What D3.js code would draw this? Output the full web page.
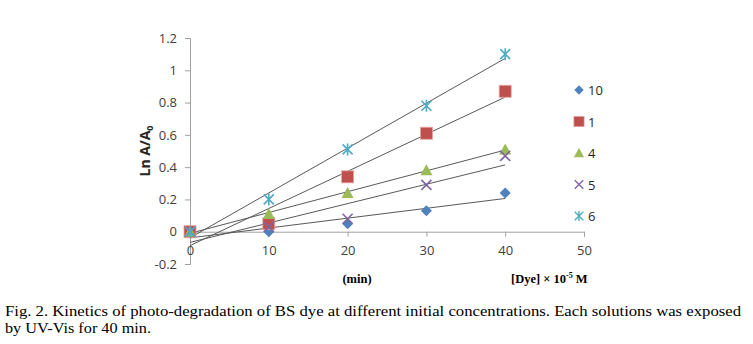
<!DOCTYPE html>
<html>
<head>
<meta charset="utf-8">
<script src="https://cdn.jsdelivr.net/npm/d3@7"></script>
<style>
body { margin: 0; background: #fff; }
text { font-family: "Open Sans", "Liberation Sans", sans-serif; }
</style>
</head>
<body>
<div id="main"></div>
<script>
var times = [0, 10, 20, 30, 40];
var seriesNames = ["10", "1", "4", "5", "6"];
var s10 = [0, 0.0, 0.05, 0.13, 0.24];
var s1 = [0, 0.05, 0.34, 0.61, 0.87];
var s4 = [0, 0.11, 0.24, 0.38, 0.51];
var s5 = [0, 0.03, 0.08, 0.29, 0.47];
var s6 = [0, 0.2, 0.51, 0.78, 1.1];
var xTicks = [0, 10, 20, 30, 40, 50];
var yTicks = [-0.2, 0, 0.2, 0.4, 0.6, 0.8, 1, 1.2];

var seriesValues = [s10, s1, s4, s5, s6];
var colors = ["#4F81BD", "#C0504D", "#9BBB59", "#8064A2", "#4BACC6"];
var shapes = ["diamond", "square", "triangle", "x", "star"];

var W = 753, H = 344;
var svg = d3.select("#main").append("svg")
  .attr("width", W).attr("height", H);

var x = d3.scaleLinear().domain([0, 50]).range([190, 584]);
var y = d3.scaleLinear().domain([-0.2, 1.2]).range([264, 38]);

var axisColor = "#A0A0A0";

// y axis
var yAxis = svg.append("g")
  .attr("transform", "translate(" + x(0) + ",0)")
  .call(d3.axisLeft(y).tickValues(yTicks).tickSize(5).tickPadding(8)
    .tickFormat(d => String(Math.round(d * 10) / 10)));
yAxis.select(".domain").attr("stroke", axisColor);
yAxis.selectAll(".tick line").attr("stroke", axisColor);
yAxis.selectAll(".tick text").attr("fill", "#404040").style("font-size", "13px");

// x axis at y=0
var xAxis = svg.append("g")
  .attr("transform", "translate(0," + y(0) + ")")
  .call(d3.axisBottom(x).tickValues(xTicks).tickSize(5).tickPadding(9));
xAxis.select(".domain").attr("stroke", axisColor);
xAxis.selectAll(".tick line").attr("stroke", axisColor);
xAxis.selectAll(".tick text").attr("fill", "#404040").style("font-size", "13px");

// linear trendlines (least squares)
function fit(vals) {
  var mx = d3.mean(times), my = d3.mean(vals);
  var num = d3.sum(times, (t, i) => (t - mx) * (vals[i] - my));
  var den = d3.sum(times, t => (t - mx) * (t - mx));
  var b = num / den;
  return { b: b, a: my - b * mx };
}
seriesValues.forEach(function(vals) {
  var f = fit(vals);
  var x0 = d3.min(times), x1 = d3.max(times);
  svg.append("line")
    .attr("x1", x(x0)).attr("y1", y(f.a + f.b * x0))
    .attr("x2", x(x1)).attr("y2", y(f.a + f.b * x1))
    .attr("stroke", "#595959").attr("stroke-width", 1);
});

function drawMarker(g, shape, color) {
  if (shape === "diamond") {
    g.append("path").attr("d", "M0,-5.5L5.5,0L0,5.5L-5.5,0Z").attr("fill", color);
  } else if (shape === "square") {
    g.append("rect").attr("x", -6).attr("y", -6).attr("width", 12).attr("height", 12)
      .attr("fill", color).attr("stroke", "#E6A3A1").attr("stroke-width", 0.8);
  } else if (shape === "triangle") {
    g.append("path").attr("d", "M0,-6L6,5L-6,5Z").attr("fill", color);
  } else if (shape === "x") {
    g.append("path").attr("d", "M-5,-5L5,5M-5,5L5,-5")
      .attr("stroke", color).attr("stroke-width", 1.6).attr("fill", "none");
  } else {
    g.append("path").attr("d", "M-5,-5L5,5M-5,5L5,-5M0,-6L0,6")
      .attr("stroke", color).attr("stroke-width", 1.6).attr("fill", "none");
  }
}

seriesValues.forEach(function(vals, si) {
  svg.append("g").selectAll("g")
    .data(vals)
    .enter().append("g")
    .attr("transform", (d, i) => "translate(" + x(times[i]) + "," + y(d) + ")")
    .each(function() { drawMarker(d3.select(this), shapes[si], colors[si]); });
});

// legend
var legend = svg.append("g").selectAll("g")
  .data(seriesNames)
  .enter().append("g")
  .attr("transform", (d, i) => "translate(579," + (90 + i * 31.5) + ")");
legend.each(function(d, i) {
  var g = d3.select(this).append("g").attr("transform", "scale(0.85)");
  drawMarker(g, shapes[i], colors[i]);
});
legend.append("text")
  .attr("x", 9).attr("y", 5)
  .attr("fill", "#262626")
  .style("font-size", "13px")
  .text(d => d);

// axis titles
var yt = svg.append("text")
  .attr("transform", "translate(150,151) rotate(-90)")
  .attr("text-anchor", "middle")
  .attr("fill", "#262626")
  .style("font-size", "14px").style("font-weight", "bold");
yt.append("tspan").text("Ln A/A");
yt.append("tspan").attr("dy", 3).style("font-size", "9px").text("0");

svg.append("text")
  .attr("x", 357).attr("y", 283)
  .attr("text-anchor", "middle")
  .style("font-family", "Liberation Serif, serif")
  .style("font-size", "12.5px").style("font-weight", "bold")
  .text("(min)");

var dye = svg.append("text")
  .attr("x", 511).attr("y", 283)
  .style("font-family", "Liberation Serif, serif")
  .style("font-size", "12.5px").style("font-weight", "bold");
dye.append("tspan").text("[Dye] \u00d7 10");
dye.append("tspan").attr("dy", -5).style("font-size", "8px").text("-5");
dye.append("tspan").attr("dy", 5).text(" M");

// caption
var caption = [
  "Fig. 2. Kinetics of photo-degradation of BS dye at different initial concentrations. Each solutions was exposed",
  "by UV-Vis for 40 min."
];
var captionWidths = [736, 146];
svg.selectAll(".caption")
  .data(caption)
  .enter().append("text")
  .attr("class", "caption")
  .attr("x", 5)
  .attr("y", (d, i) => 316 + i * 17)
  .attr("textLength", (d, i) => captionWidths[i])
  .attr("lengthAdjust", "spacingAndGlyphs")
  .style("font-family", "Liberation Serif, serif")
  .style("font-size", "15.5px")
  .attr("fill", "#000")
  .text(d => d);
</script>
</body>
</html>
